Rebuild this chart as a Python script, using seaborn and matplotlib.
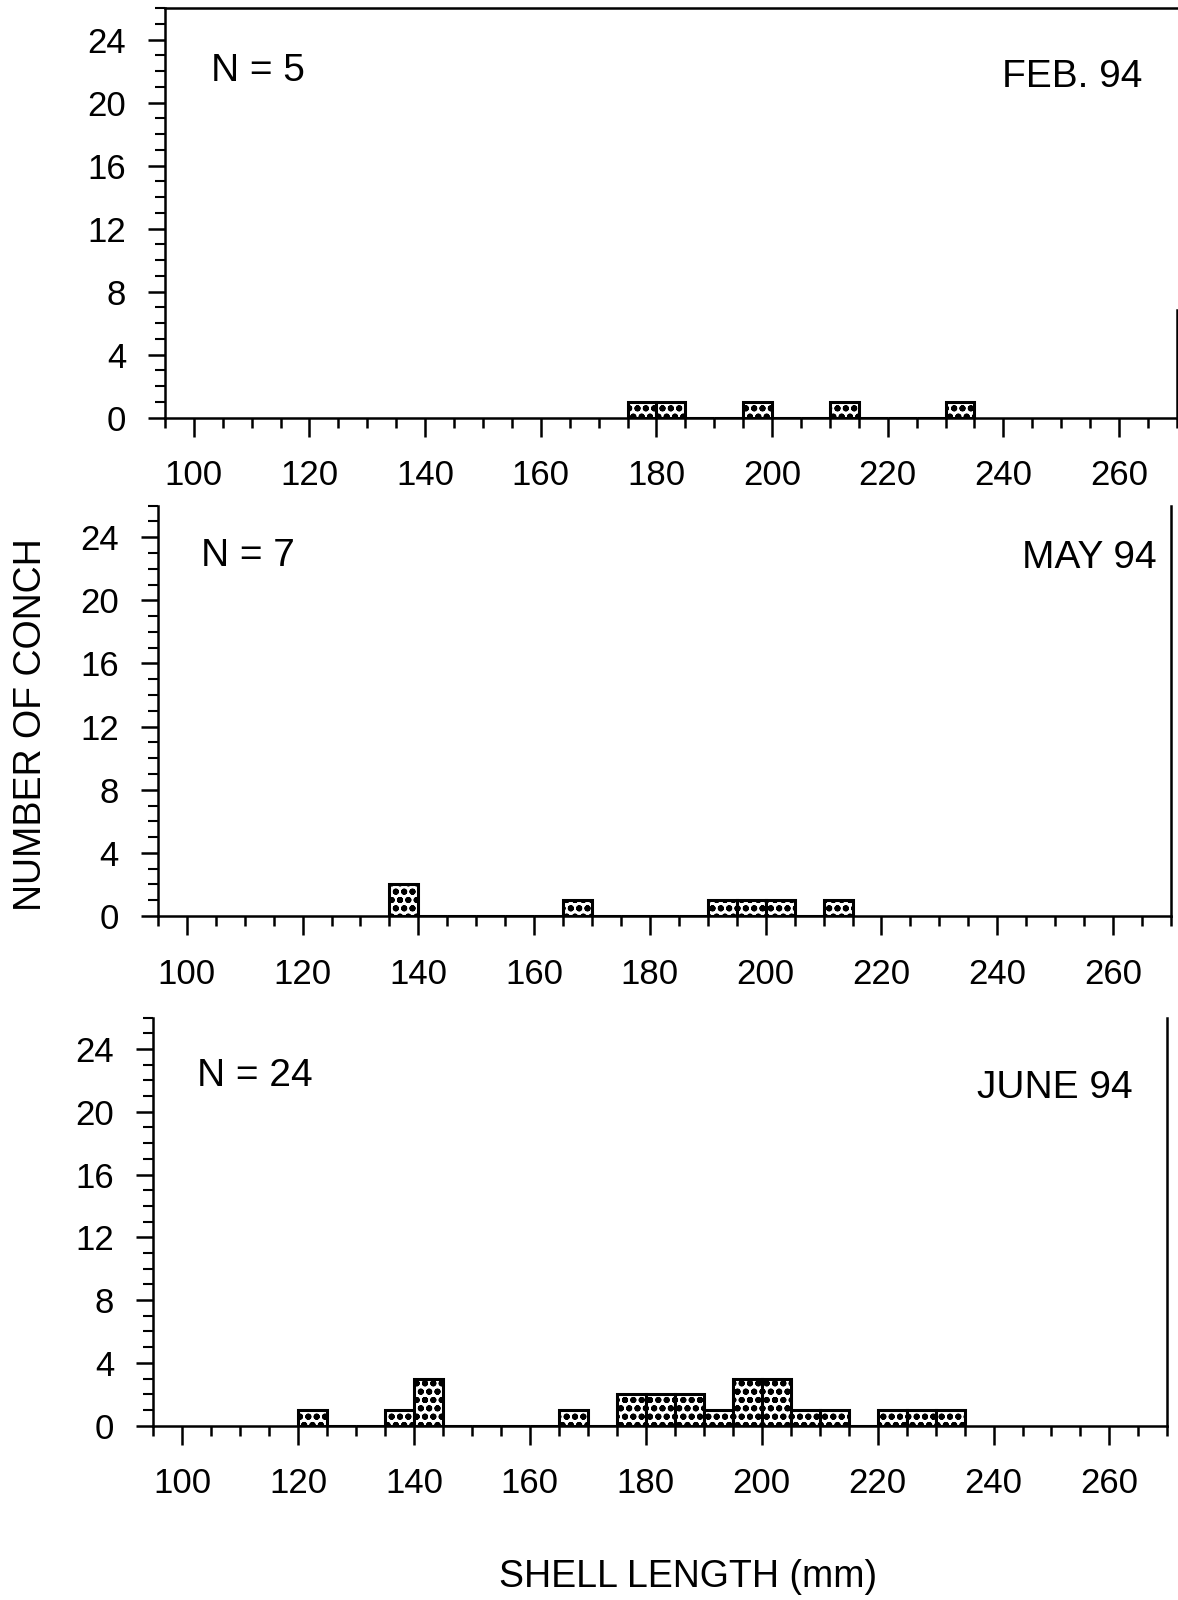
import numpy as np
import pandas as pd
import matplotlib
matplotlib.use("Agg")
import matplotlib.pyplot as plt
from matplotlib.ticker import MultipleLocator
import seaborn as sns

# ---- data: left edge of 5-mm size class and number of conch ----
feb_bins = [175, 180, 195, 210, 230]
feb_counts = [1, 1, 1, 1, 1]

may_bins = [135, 165, 190, 195, 200, 210]
may_counts = [2, 1, 1, 1, 1, 1]

jun_bins = [120, 135, 140, 165, 175, 180, 185, 190, 195, 200, 205, 210, 220, 225, 230]
jun_counts = [1, 1, 3, 1, 2, 2, 2, 1, 3, 3, 1, 1, 1, 1, 1]

panel_dates = ["FEB. 94", "MAY 94", "JUNE 94"]
panel_n = ["N = 5", "N = 7", "N = 24"]
x_ticks = [100, 120, 140, 160, 180, 200, 220, 240, 260]
y_ticks = [0, 4, 8, 12, 16, 20, 24]
bin_width = 5
x_label = "SHELL LENGTH (mm)"
y_label = "NUMBER OF CONCH"

sns.set_theme(style="ticks")
plt.rcParams['font.family'] = ['Liberation Sans', 'DejaVu Sans']
plt.rcParams['hatch.linewidth'] = 2.0
plt.rcParams['text.color'] = 'black'
plt.rcParams['axes.labelcolor'] = 'black'
plt.rcParams['xtick.color'] = 'black'
plt.rcParams['ytick.color'] = 'black'
plt.rcParams['xtick.labelcolor'] = 'black'
plt.rcParams['ytick.labelcolor'] = 'black'

fig = plt.figure(figsize=(11.78, 16), dpi=100)

# axes rectangles [left, bottom, width, height]
rects = [
    [0.140, 0.739, 0.859, 0.256],
    [0.134, 0.4275, 0.860, 0.2565],
    [0.130, 0.109, 0.861, 0.255],
]
# text positions (data coords)
n_pos = [(103, 22.0), (102.5, 22.8), (102.5, 22.3)]
d_pos = [(264, 21.6), (267.6, 22.7), (264, 21.5)]

datasets = [(feb_bins, feb_counts), (may_bins, may_counts), (jun_bins, jun_counts)]

for i, ((bins, counts), rect) in enumerate(zip(datasets, rects)):
    ax = fig.add_axes(rect)
    df = pd.DataFrame({"length": np.array(bins) + bin_width / 2, "count": counts})
    sns.histplot(data=df, x="length", weights="count", binwidth=bin_width,
                 binrange=(min(bins), max(bins) + bin_width), ax=ax,
                 color="white", edgecolor="black", linewidth=2.2,
                 hatch="oo", alpha=1, shrink=1)
    ax.set_xlim(95, 270)
    ax.set_ylim(0, 26)
    ax.set_xlabel("")
    ax.set_ylabel("")
    ax.set_xticks(x_ticks)
    ax.set_yticks(y_ticks)
    ax.xaxis.set_minor_locator(MultipleLocator(5))
    ax.yaxis.set_minor_locator(MultipleLocator(1))
    ax.tick_params(axis="x", which="major", direction="out", length=14, width=1.8,
                   pad=16, labelsize=25, colors="black")
    ax.tick_params(axis="x", which="minor", direction="out", length=7, width=1.8)
    ax.tick_params(axis="y", which="major", direction="out", length=12, width=1.8,
                   pad=16, labelsize=25, colors="black")
    ax.tick_params(axis="y", which="minor", direction="out", length=7, width=1.5)
    for s in ax.spines.values():
        s.set_linewidth(1.8)
        s.set_color("black")
    if i == 0:
        ax.spines["top"].set_visible(True)
        ax.spines["right"].set_bounds(0, 6.8)
    else:
        ax.spines["top"].set_visible(False)
        ax.spines["right"].set_visible(True)
    ax.text(n_pos[i][0], n_pos[i][1], panel_n[i], fontsize=28, ha="left", va="center",
            color="black")
    ax.text(d_pos[i][0], d_pos[i][1], panel_dates[i], fontsize=28, ha="right", va="center",
            color="black")

fig.text(0.026, 0.547, y_label, rotation=90, fontsize=27, ha="center", va="center",
         color="black")
fig.text(0.584, 0.0144, x_label, fontsize=27, ha="center", va="center", color="black")

fig.savefig("out.png", dpi=100, facecolor="white")
